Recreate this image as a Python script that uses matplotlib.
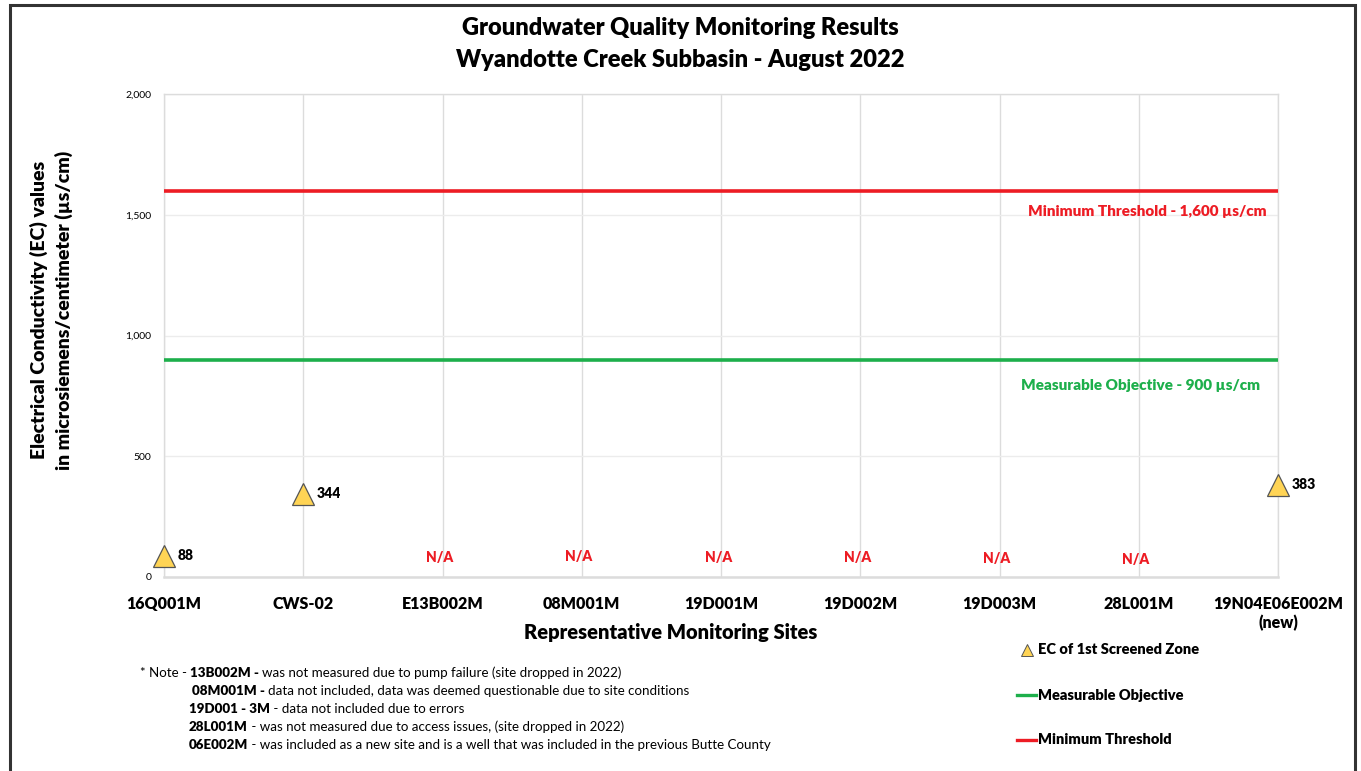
import numpy as np
import matplotlib
import matplotlib.pyplot as plt
from matplotlib.lines import Line2D
from matplotlib.patches import Rectangle

matplotlib.rcParams['font.family'] = ['Lato', 'DejaVu Sans']

# Monitoring sites and EC readings (None = no data)
sites = ['16Q001M', 'CWS-02', 'E13B002M', '08M001M', '19D001M',
         '19D002M', '19D003M', '28L001M', '19N04E06E002M\n(new)']
ec_values = [88, 344, None, None, None, None, None, None, 383]
na_heights = [80, 83, 80, 80, 76, 72]   # where the N/A labels sit
min_threshold = 1600
meas_objective = 900
yticks = [0, 500, 1000, 1500, 2000]
ytick_labels = ['0', '500', '1,000', '1,500', '2,000']

red = '#ED1C24'
green = '#1DAF4B'
tri_face = '#FFD455'
W, H = 1361, 771

fig = plt.figure(figsize=(W / 100, H / 100), dpi=100)
ax = fig.add_axes([164 / W, 1 - 577 / H, (1278 - 164) / W, (577 - 94) / H])

x = np.arange(len(sites))
ax.set_xlim(0, len(sites) - 1)
ax.set_ylim(0, 2000)

# grid
ax.set_yticks(yticks)
ax.set_yticklabels(ytick_labels, fontsize=7.5)
ax.set_xticks(x)
ax.set_xticklabels(sites, fontsize=11.5, fontweight='heavy')
ax.tick_params(length=0, pad=9)
ax.tick_params(axis='x', pad=14)
ax.grid(axis='y', color='#ececec', lw=1)
ax.grid(axis='x', color='#dcdcdc', lw=1)
ax.set_axisbelow(True)
for s in ax.spines.values():
    s.set_color('#dcdcdc')
    s.set_linewidth(1)
ax.spines['bottom'].set_linewidth(1.8)

# threshold lines
ax.axhline(min_threshold, color=red, lw=2.6, zorder=3)
ax.axhline(meas_objective, color=green, lw=2.6, zorder=3)
ax.text(7.92, 1515, 'Minimum Threshold - 1,600 µs/cm', color=red,
        fontsize=11, fontweight='heavy', ha='right', va='center')
ax.text(7.87, 795, 'Measurable Objective - 900 µs/cm', color=green,
        fontsize=11, fontweight='heavy', ha='right', va='center')

# EC points
xs = [i for i, v in enumerate(ec_values) if v is not None]
ys = [v for v in ec_values if v is not None]
ax.plot(xs, ys, linestyle='none', marker='^', markersize=16,
        markerfacecolor=tri_face, markeredgecolor='#555555', markeredgewidth=0.9,
        zorder=4, clip_on=False)
for xi, yi in zip(xs, ys):
    ax.annotate(str(yi), (xi, yi), xytext=(10, 0), textcoords='offset points',
                fontsize=10, fontweight='heavy', va='center', ha='left')

na_sites = [i for i, v in enumerate(ec_values) if v is None]
for xi, h in zip(na_sites, na_heights):
    ax.text(xi - 0.02, h, 'N/A', color=red, fontsize=10, fontweight='heavy',
            ha='center', va='center')

# titles
fig.text(0.5, 1 - 28 / H, 'Groundwater Quality Monitoring Results', ha='center',
         va='center', fontsize=17, fontweight='heavy')
fig.text(0.5, 1 - 60 / H, 'Wyandotte Creek Subbasin - August 2022', ha='center',
         va='center', fontsize=17, fontweight='heavy')
fig.text(671 / W, 1 - 633 / H, 'Representative Monitoring Sites', ha='center',
         va='center', fontsize=14.5, fontweight='heavy')
fig.text(51 / W, 0.598, 'Electrical Conductivity (EC) values\nin microsiemens/centimeter (µs/cm)',
         rotation=90, ha='center', va='center', fontsize=14, fontweight='heavy',
         linespacing=1.45)

# legend entries
fig.lines.append(Line2D([1027 / W], [1 - 650 / H], transform=fig.transFigure,
                        marker='^', markersize=8, markerfacecolor=tri_face,
                        markeredgecolor='#555555', markeredgewidth=0.7, linestyle='none'))
fig.lines.append(Line2D([1017 / W, 1036 / W], [1 - 695 / H] * 2,
                        transform=fig.transFigure, color=green, lw=2.4))
fig.lines.append(Line2D([1017 / W, 1036 / W], [1 - 740 / H] * 2,
                        transform=fig.transFigure, color=red, lw=2.4))
for ypx, lab in [(650, 'EC of 1st Screened Zone'), (695, 'Measurable Objective'),
                 (740, 'Minimum Threshold')]:
    fig.text(1038 / W, 1 - ypx / H, lab, fontsize=10.5, fontweight='heavy',
             ha='left', va='center')

# footnotes: optional lead, bold site id, then plain description
notes = [
    (140, 673, '* Note - ', '13B002M - ', 'was not measured due to pump failure (site dropped in 2022)'),
    (192, 691, '', '08M001M - ', 'data not included, data was deemed questionable due to site conditions'),
    (189, 709, '', '19D001 - 3M', ' - data not included due to errors'),
    (189, 727, '', '28L001M', ' - was not measured due to access issues, (site dropped in 2022)'),
    (189, 745, '', '06E002M', ' - was included as a new site and is a well that was included in the previous Butte County'),
]
fs_note = 9.6
for xpx, ypx, lead, bold, rest in notes:
    pos = (xpx / W, 1 - ypx / H)
    if lead:
        t = fig.text(*pos, lead, fontsize=fs_note, ha='left', va='center')
        b = plt.annotate(bold, xy=(1, 0.5), xycoords=t, fontsize=fs_note,
                         fontweight='heavy', ha='left', va='center', annotation_clip=False)
    else:
        b = fig.text(*pos, bold, fontsize=fs_note, fontweight='heavy',
                     ha='left', va='center')
    plt.annotate(rest, xy=(1, 0.5), xycoords=b, fontsize=fs_note, ha='left',
                 va='center', annotation_clip=False)

# outer frame
fig.patches.append(Rectangle((10 / W, -0.05), 1345 / W, 1.05 - 5 / H,
                             transform=fig.transFigure, fill=False,
                             edgecolor='#333333', lw=2.2))

fig.savefig('out.png', dpi=100)
